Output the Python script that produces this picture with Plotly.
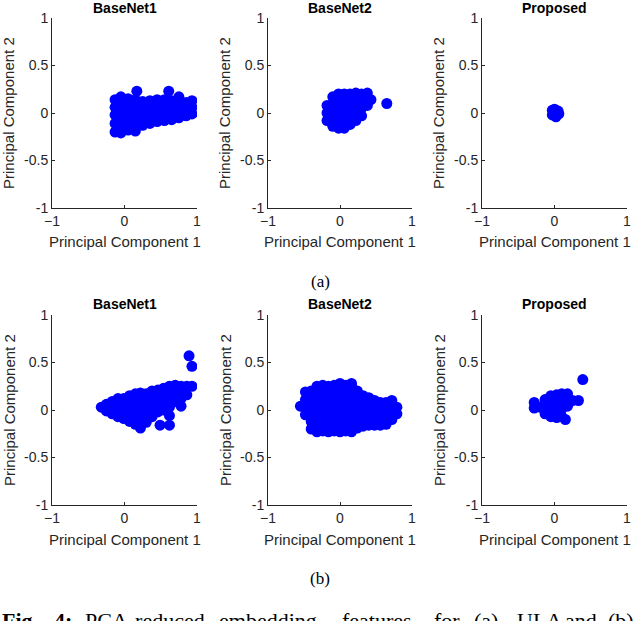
import plotly.graph_objects as go

# panel titles and ticks
titles = ["BaseNet1", "BaseNet2", "Proposed"]
x_ticks = [-1, 0, 1]
y_ticks = [-1, -0.5, 0, 0.5, 1]

# each entry is (PC1, [PC2 values at that PC1])
# (a) ULA
ula_base1 = [
    (-0.13, [-0.2, -0.11, -0.02, 0.06, 0.14]),
    (-0.05, [-0.21, -0.12, -0.04, 0.04, 0.12, 0.17]),
    (0.05, [-0.18, -0.09, -0.01, 0.07, 0.15]),
    (0.15, [-0.19, -0.1, -0.02, 0.06, 0.14]),
    (0.17, [0.23]),
    (0.25, [-0.13, -0.04, 0.04, 0.12]),
    (0.35, [-0.11, -0.02, 0.06, 0.13]),
    (0.45, [-0.09, -0.01, 0.07, 0.14]),
    (0.55, [-0.08, 0.0, 0.08, 0.14]),
    (0.61, [0.23]),
    (0.65, [-0.07, 0.01, 0.09, 0.13]),
    (0.75, [-0.05, 0.03, 0.1, 0.17]),
    (0.85, [-0.03, 0.04, 0.11]),
    (0.93, [-0.01, 0.06, 0.13]),
]
ula_base2 = [
    (-0.18, [-0.08, 0.0, 0.08]),
    (-0.1, [-0.14, -0.06, 0.02, 0.1, 0.17]),
    (-0.02, [-0.16, -0.08, 0.0, 0.08, 0.16, 0.2]),
    (0.06, [-0.16, -0.08, 0.0, 0.08, 0.16, 0.2]),
    (0.14, [-0.12, -0.04, 0.04, 0.12, 0.2]),
    (0.22, [-0.08, 0.0, 0.08, 0.16, 0.21]),
    (0.3, [-0.03, 0.05, 0.13, 0.2]),
    (0.38, [0.08, 0.15, 0.21]),
    (0.43, [0.14]),
    (0.65, [0.1]),
]
ula_prop = [
    (-0.03, [-0.02, 0.03]),
    (0.0, [0.04]),
    (0.02, [-0.04]),
    (0.05, [0.02]),
    (0.06, [-0.01]),
]

# (b)
b_base1 = [
    (-0.32, [0.03]),
    (-0.25, [-0.01, 0.06]),
    (-0.17, [-0.04, 0.03, 0.09]),
    (-0.09, [-0.07, 0.0, 0.07, 0.12]),
    (-0.01, [-0.09, -0.02, 0.05, 0.12]),
    (0.07, [-0.12, -0.05, 0.02, 0.09, 0.15]),
    (0.15, [-0.15, -0.08, -0.01, 0.06, 0.13, 0.17]),
    (0.22, [-0.19, -0.11, -0.03, 0.05, 0.12, 0.18]),
    (0.3, [-0.13, -0.06, 0.02, 0.1, 0.17]),
    (0.38, [-0.07, 0.01, 0.09, 0.16, 0.2]),
    (0.46, [-0.02, 0.06, 0.14, 0.21]),
    (0.49, [-0.16]),
    (0.54, [0.0, 0.08, 0.16, 0.23]),
    (0.62, [-0.16, -0.06, 0.03, 0.11, 0.2, 0.25]),
    (0.7, [0.09, 0.17, 0.26]),
    (0.78, [0.04, 0.12, 0.2, 0.25]),
    (0.86, [0.16, 0.25]),
    (0.89, [0.57]),
    (0.93, [0.25, 0.46]),
]
b_base2 = [
    (-0.55, [0.04]),
    (-0.48, [-0.05, 0.03, 0.11, 0.19]),
    (-0.4, [-0.2, -0.12, -0.04, 0.04, 0.12, 0.2]),
    (-0.32, [-0.23, -0.15, -0.07, 0.01, 0.09, 0.17, 0.25]),
    (-0.24, [-0.22, -0.14, -0.06, 0.02, 0.1, 0.18, 0.26]),
    (-0.16, [-0.23, -0.15, -0.07, 0.01, 0.09, 0.17, 0.25]),
    (-0.08, [-0.22, -0.14, -0.06, 0.02, 0.1, 0.18, 0.26]),
    (0.0, [-0.23, -0.15, -0.07, 0.01, 0.09, 0.17, 0.25, 0.28]),
    (0.08, [-0.22, -0.14, -0.06, 0.02, 0.1, 0.18, 0.26]),
    (0.16, [-0.23, -0.15, -0.07, 0.01, 0.09, 0.17, 0.25, 0.28]),
    (0.24, [-0.19, -0.11, -0.03, 0.05, 0.13, 0.2]),
    (0.32, [-0.17, -0.09, -0.01, 0.07, 0.15]),
    (0.4, [-0.16, -0.08, 0.0, 0.08, 0.13]),
    (0.48, [-0.16, -0.08, 0.0, 0.08, 0.1]),
    (0.56, [-0.16, -0.08, 0.0, 0.08]),
    (0.64, [-0.15, -0.07, 0.01, 0.08]),
    (0.72, [-0.1, -0.02, 0.06, 0.1]),
    (0.79, [-0.04, 0.03]),
]
b_prop = [
    (-0.28, [0.02, 0.08]),
    (-0.2, [0.03]),
    (-0.13, [-0.04, 0.04, 0.11]),
    (-0.05, [-0.07, 0.01, 0.09, 0.15]),
    (0.03, [-0.08, 0.0, 0.08, 0.16]),
    (0.1, [-0.07, 0.01, 0.09, 0.17]),
    (0.15, [-0.1]),
    (0.18, [0.04, 0.12, 0.17]),
    (0.25, [0.1]),
    (0.33, [0.1]),
    (0.39, [0.32]),
]

panels = [ula_base1, ula_base2, ula_prop, b_base1, b_base2, b_prop]

# caption words and their left edges (px)
caption_words = ["<b>Fig.</b>", "<b>4:</b>", "PCA-reduced", "embedding", "features",
                 "for", "(a)", "ULA", "and", "(b)"]
caption_x = [0, 52, 83, 217, 340, 432, 472, 515, 563, 606]

W, H = 640, 621
col_dom = [[52 / W, 197 / W], [268 / W, 412 / W], [482 / W, 627 / W]]
row_dom = [[1 - 208 / H, 1 - 18 / H], [1 - 505 / H, 1 - 315 / H]]
title_y = [1 - 8 / H, 1 - 304 / H]
xtitle_y = [1 - 242 / H, 1 - 539 / H]

axcol = "#262626"

fig = go.Figure()
ann = []
for k, pts in enumerate(panels):
    r, c = divmod(k, 3)
    xs, ys = [], []
    for px, col in pts:
        for py in col:
            xs.append(px)
            ys.append(py)
    sfx = "" if k == 0 else str(k + 1)
    fig.add_trace(go.Scatter(
        x=xs, y=ys, mode="markers", xaxis="x" + sfx, yaxis="y" + sfx,
        marker=dict(color="#0000ff", size=11, line=dict(width=0)),
        showlegend=False, hoverinfo="skip"))
    common = dict(range=[-1, 1], showline=True, linecolor=axcol, linewidth=1,
                  showgrid=False, zeroline=False, ticks="inside", ticklen=3,
                  tickcolor=axcol, automargin=False,
                  tickfont=dict(family="Liberation Sans", size=14, color=axcol),
                  fixedrange=True)
    fig.layout["xaxis" + sfx] = dict(common, domain=col_dom[c], anchor="y" + sfx,
                                     tickvals=x_ticks)
    fig.layout["yaxis" + sfx] = dict(common, domain=row_dom[r], anchor="x" + sfx,
                                     tickvals=y_ticks, ticktext=["-1", "-0.5", "0", "0.5", "1"])
    xc = sum(col_dom[c]) / 2
    ann.append(dict(text="<b>" + titles[c] + "</b>", x=xc, y=title_y[r],
                    font=dict(family="Liberation Sans", size=14, color="#000000")))
    ann.append(dict(text="Principal Component 1", x=xc, y=xtitle_y[r],
                    font=dict(family="Liberation Sans", size=15, color=axcol)))
    ann.append(dict(text="Principal Component 2", x=col_dom[c][0] - 43 / W,
                    y=sum(row_dom[r]) / 2, textangle=-90,
                    font=dict(family="Liberation Sans", size=15, color=axcol)))

ann.append(dict(text="(a)", x=0.5, y=1 - 281 / H,
                font=dict(family="Liberation Serif", size=17, color="#000000")))
ann.append(dict(text="(b)", x=0.5, y=1 - 578 / H,
                font=dict(family="Liberation Serif", size=17, color="#000000")))
for wd, wx in zip(caption_words, caption_x):
    ann.append(dict(text=wd, x=wx / W, xanchor="left", y=1 - 620 / H,
                    font=dict(family="Liberation Serif", size=22, color="#000000")))

for a in ann:
    a.update(xref="paper", yref="paper", showarrow=False)
    a.setdefault("xanchor", "center")
    a.setdefault("yanchor", "middle")

fig.update_layout(template="none", width=W, height=H, margin=dict(l=0, r=0, t=0, b=0),
                  paper_bgcolor="white", plot_bgcolor="white", annotations=ann)

fig.write_html("out.html", config={"displayModeBar": False},
               post_script="document.body.style.margin='0';")
